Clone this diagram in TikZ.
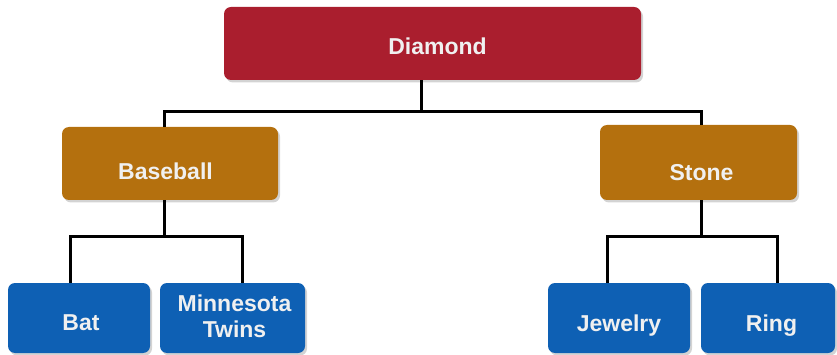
\documentclass[tikz,border=0pt]{standalone}
\usepackage{fontspec}
\setmainfont{Liberation Sans}
\usepackage{tikz}
\usetikzlibrary{shadows}

\definecolor{topred}{RGB}{170,30,46}
\definecolor{midorange}{RGB}{180,112,14}
\definecolor{lowblue}{RGB}{14,96,180}

\tikzset{
  box/.style={rounded corners=7pt, minimum height=73pt,
    drop shadow={opacity=.35, shadow xshift=2pt, shadow yshift=-2.5pt}},
  redbox/.style={box, fill=topred, minimum width=417pt},
  orangebox/.style={box, fill=midorange},
  bluebox/.style={box, fill=lowblue, minimum height=70pt},
  boxtext/.style={text=white!94!black, font=\bfseries\fontsize{23}{26}\selectfont,
    align=center, inner sep=0pt},
  link/.style={line width=3pt, black}
}

\begin{document}
\begin{tikzpicture}[x=1pt, y=-1pt]
  \useasboundingbox (0,0) rectangle (837,355);
  % boxes
  \node[redbox] at (432.5,43.5) (diamond) {};
  \node[orangebox, minimum width=216pt] at (170,163.5) (baseball) {};
  \node[orangebox, minimum width=197pt, minimum height=75pt] at (698.5,162.5) (stone) {};
  \node[bluebox, minimum width=142pt] at (79,318) (bat) {};
  \node[bluebox, minimum width=145pt] at (232.5,318) (twins) {};
  \node[bluebox, minimum width=142pt] at (619,318) (jewelry) {};
  \node[bluebox, minimum width=134pt] at (768,318) (ring) {};
  % texts
  \node[boxtext] at (437.5,46) (diamondtext) {Diamond};
  \node[boxtext] at (165.5,171.5) (baseballtext) {Baseball};
  \node[boxtext] at (701.5,173) (stonetext) {Stone};
  \node[boxtext] at (81,323) (battext) {Bat};
  \node[boxtext] at (234.5,316.5) (twinstext) {Minnesota\\Twins};
  \node[boxtext, text depth=0pt] at (619,323) (jewelrytext) {Jewelry};
  \node[boxtext, text depth=0pt] at (771.5,323) (ringtext) {Ring};
  % connectors
  \coordinate (topjoint) at (421,112);
  \coordinate (leftjoint) at (164.5,237);
  \coordinate (rightjoint) at (701,237);
  \draw[link] ([xshift=-11.5pt]diamond.south) -- (topjoint);
  \draw[link] ([xshift=-5.5pt]baseball.north) |- (topjoint) -| ([xshift=2.5pt]stone.north);
  \draw[link] ([xshift=-5.5pt]baseball.south) -- (leftjoint);
  \draw[link] ([xshift=-9pt]bat.north) |- (leftjoint) -| ([xshift=9.5pt]twins.north);
  \draw[link] ([xshift=2.5pt]stone.south) -- (rightjoint);
  \draw[link] ([xshift=-12pt]jewelry.north) |- (rightjoint) -| ([xshift=9pt]ring.north);
\end{tikzpicture}
\end{document}
